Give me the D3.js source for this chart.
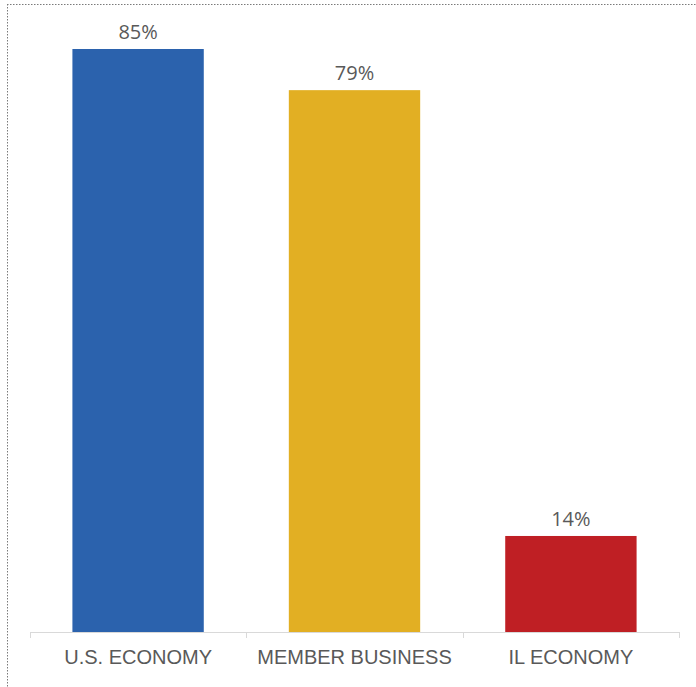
<!DOCTYPE html>
<html>
<head>
<meta charset="utf-8">
<script src="https://cdn.jsdelivr.net/npm/d3@7"></script>
<style>
  body { margin: 0; background: #fff; }
</style>
</head>
<body>
<div id="chart"></div>
<script>
// data
var categories = ["U.S. ECONOMY", "MEMBER BUSINESS", "IL ECONOMY"];
var values = [85, 79, 14];
var colors = ["#2b62ad", "#e2af23", "#bf1f24"];

var W = 696, H = 687;
var margin = {top: 49, right: 17, bottom: 55, left: 30};
var width = W - margin.left - margin.right;
var height = H - margin.top - margin.bottom;

var svg = d3.select("#chart").append("svg")
    .attr("width", W)
    .attr("height", H);

// dotted frame (top and left only, as in the reference)
svg.append("line")
    .attr("x1", 7).attr("x2", W).attr("y1", 4.5).attr("y2", 4.5)
    .attr("stroke", "#7a7a7a").attr("stroke-width", 1).attr("stroke-dasharray", "1.5,1.5");
svg.append("line")
    .attr("x1", 7.5).attr("x2", 7.5).attr("y1", 4).attr("y2", H)
    .attr("stroke", "#7a7a7a").attr("stroke-width", 1).attr("stroke-dasharray", "1.5,1.5");

var g = svg.append("g")
    .attr("transform", "translate(" + margin.left + "," + margin.top + ")");

var x = d3.scaleBand()
    .domain(categories)
    .range([0, width])
    .paddingInner(0.393)
    .paddingOuter(0.196);

var y = d3.scaleLinear()
    .domain([0, 85])
    .range([height, 0]);

var data = categories.map(function(c, i) {
  return {cat: c, val: values[i], color: colors[i]};
});

g.selectAll("rect.bar")
    .data(data)
    .enter().append("rect")
    .attr("class", "bar")
    .attr("x", function(d) { return x(d.cat); })
    .attr("y", function(d) { return y(d.val); })
    .attr("width", x.bandwidth())
    .attr("height", function(d) { return height - y(d.val); })
    .attr("fill", function(d) { return d.color; });

g.selectAll("text.val")
    .data(data)
    .enter().append("text")
    .attr("class", "val")
    .attr("x", function(d) { return x(d.cat) + x.bandwidth() / 2; })
    .attr("y", function(d) { return y(d.val) - 10; })
    .attr("text-anchor", "middle")
    .attr("font-family", "'Open Sans', sans-serif")
    .attr("font-size", "20px")
    .attr("fill", "#595959")
    .text(function(d) { return d.val + "%"; });

// x axis: light baseline with ticks between categories
var xAxis = g.append("g")
    .attr("transform", "translate(0," + height + ")");

xAxis.append("line")
    .attr("x1", 0).attr("x2", width)
    .attr("y1", 0.5).attr("y2", 0.5)
    .attr("stroke", "#d9d9d9");

var edges = d3.range(categories.length + 1).map(function(i) { return i * x.step(); });

xAxis.selectAll("line.tick")
    .data(edges)
    .enter().append("line")
    .attr("class", "tick")
    .attr("x1", function(d) { return Math.round(d) + 0.5; })
    .attr("x2", function(d) { return Math.round(d) + 0.5; })
    .attr("y1", 0).attr("y2", 6)
    .attr("stroke", "#d9d9d9");

xAxis.selectAll("text.cat")
    .data(categories)
    .enter().append("text")
    .attr("class", "cat")
    .attr("x", function(d) { return x(d) + x.bandwidth() / 2; })
    .attr("y", 32)
    .attr("text-anchor", "middle")
    .attr("font-family", "'Liberation Sans', Arial, sans-serif")
    .attr("font-size", "20px")
    .attr("fill", "#595959")
    .text(function(d) { return d; });
</script>
</body>
</html>
